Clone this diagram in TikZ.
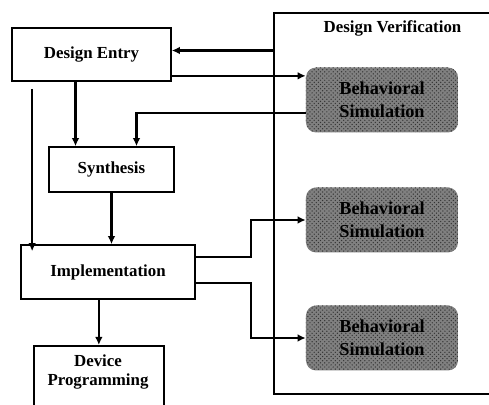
\documentclass[tikz,border=0pt]{standalone}
\usepackage{fontspec}
\setmainfont{Liberation Serif}
\usetikzlibrary{arrows.meta,patterns}

\begin{document}
\begin{tikzpicture}[
    font=\fontsize{12}{14}\selectfont\bfseries,
    box/.style={draw, line width=1.2pt, align=center},
    frame/.style={draw, line width=1.1pt, anchor=north west},
    sim/.style={rounded corners=0.25cm, fill=black!50, minimum width=3.8cm,
      minimum height=1.625cm, align=center,
      font=\fontsize{13}{16}\selectfont\bfseries,
      postaction={pattern=crosshatch dots, pattern color=black!80}},
    arr/.style={line width=1.7pt, -{Latex[length=2mm,width=1.9mm]}}
  ]
  \useasboundingbox (0,0) rectangle (12.225,10.125);
  \clip (0,0) rectangle (12.225,10.125);

  % flow on the left
  \node (de) [box, minimum width=3.975cm, minimum height=1.325cm] at (2.2875,8.7625) {Design Entry};
  \node (syn) [box, minimum width=3.125cm, minimum height=1.125cm] at (2.7875,5.8875) {Synthesis};
  \node (impl) [box, minimum width=4.35cm, minimum height=1.35cm] at (2.7,3.325) {Implementation};
  \node (dev) [box, anchor=north west, minimum width=3.25cm, minimum height=1.875cm] at (0.825,1.5) {};
  \node (devtext) [align=center] at (2.45,0.825) {Device\\Programming};

  % verification side
  \node (verif) [frame, minimum width=6cm, minimum height=9.525cm] at (6.825,9.825) {};
  \node (veriftitle) at (9.8125,9.425) {Design Verification};

  \foreach \n/\y in {1/7.625,2/4.625,3/1.675} {
    \node (bs\n) [sim] at (9.55,\y) {Behavioral\\Simulation};
  }

  \draw[arr] ([yshift=0.1cm]de.east -| verif.west) -- ([yshift=0.1cm]de.east);
  \draw[arr] ([yshift=0.15cm]de.south east) -- ([yshift=0.15cm]de.south east -| bs1.west);
  \draw[arr] ([yshift=-0.325cm]bs1.west) -| ([xshift=0.625cm]syn.north);
  \draw[arr] ([xshift=-0.4cm]de.south) -- ([xshift=-0.4cm]de.south |- syn.north);
  \draw[arr] ([shift={(0.525,-0.175)}]de.south west) -- ([shift={(0.525,-0.175)}]de.south west |- impl.north);
  \draw[arr] (syn.south) -- (syn.south |- impl.north);
  \draw[arr] ([yshift=0.375cm]impl.east) -- ++(1.375,0) |- (bs2.west);
  \draw[arr] ([yshift=-0.275cm]impl.east) -- ++(1.375,0) |- (bs3.west);
  \draw[arr] (impl.south -| dev.north) -- (dev.north);
\end{tikzpicture}
\end{document}
